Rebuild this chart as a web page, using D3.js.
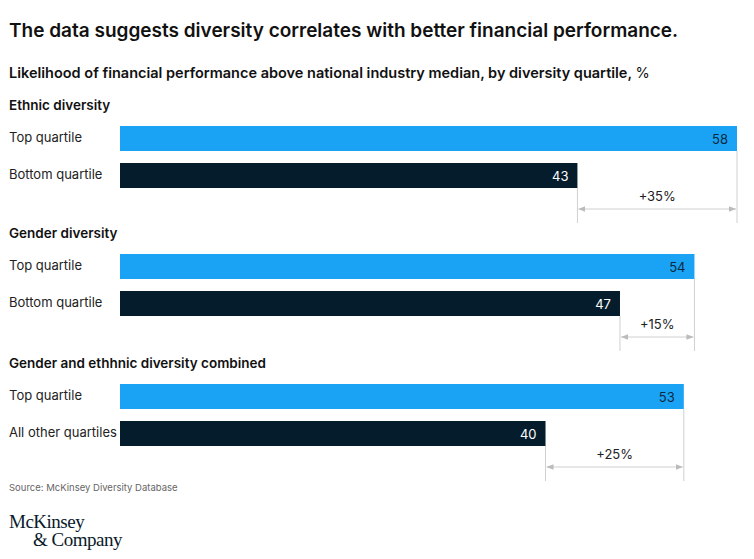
<!DOCTYPE html>
<html><head><meta charset="utf-8">
<script src="https://cdn.jsdelivr.net/npm/d3@7"></script>
<style>body{margin:0;background:#fff;font-family:Inter,"Noto Sans",sans-serif;}</style>
</head><body><svg id="chart" width="754" height="559"></svg>
<script>
// chart data
let groupNames = ["Ethnic diversity", "Gender diversity", "Gender and ethhnic diversity combined"];
let topLabels = ["Top quartile", "Top quartile", "Top quartile"];
let bottomLabels = ["Bottom quartile", "Bottom quartile", "All other quartiles"];
let topValues = [58, 54, 53];
let bottomValues = [43, 47, 40];
let diffLabels = ["+35%", "+15%", "+25%"];

let blue = "#1aa3f4", navy = "#051c2c", grey = "#d0d0d0";
let svg = d3.select("#chart");

let x = d3.scaleLinear().domain([0, 58]).range([120, 737]);
let groupTop = [126, 254, 384];
let barH = 25, gap = 12;

svg.append("text").attr("x", 9).attr("y", 37).attr("font-size", 19).attr("font-weight", 600)
    .attr("fill", "#111").text("The data suggests diversity correlates with better financial performance.");
svg.append("text").attr("x", 9).attr("y", 78).attr("font-size", 14.5).attr("font-weight", 600)
    .attr("fill", "#111").text("Likelihood of financial performance above national industry median, by diversity quartile, ")
    .append("tspan").attr("font-weight", 400).text("%");

let defs = svg.append("defs");
["s", "e"].forEach(function(k){
    defs.append("marker").attr("id", "arr" + k).attr("viewBox", "0 0 10 10")
        .attr("refX", k == "e" ? 10 : 0).attr("refY", 5).attr("markerWidth", 7).attr("markerHeight", 7)
        .attr("orient", "auto")
        .append("path").attr("d", k == "e" ? "M0,1L10,5L0,9Z" : "M10,1L0,5L10,9Z").attr("fill", "#bbb");
});

groupNames.forEach(function(name, i){
    let y0 = groupTop[i];
    let y1 = y0 + barH + gap;
    svg.append("text").attr("x", 9).attr("y", y0 - 16).attr("font-size", 13.5).attr("font-weight", 600)
        .attr("fill", "#111").text(name);

    let rows = [{label: topLabels[i], v: topValues[i], y: y0, c: blue, tc: "#0b2a3f"},
                {label: bottomLabels[i], v: bottomValues[i], y: y1, c: navy, tc: "#fff"}];
    rows.forEach(function(r){
        svg.append("text").attr("x", 9).attr("y", r.y + 16).attr("font-size", 13).attr("fill", "#222").text(r.label);
        svg.append("rect").attr("x", x(0)).attr("y", r.y).attr("width", x(r.v) - x(0)).attr("height", barH).attr("fill", r.c);
        svg.append("text").attr("x", x(r.v) - 9).attr("y", r.y + 18).attr("text-anchor", "end")
            .attr("font-size", 13).attr("fill", r.tc).text(r.v);
    });

    // bracket
    let yb = y1 + barH + 21, yEnd = y1 + barH + 35;
    svg.append("line").attr("x1", x(bottomValues[i])).attr("x2", x(bottomValues[i]))
        .attr("y1", y1 + barH).attr("y2", yEnd).attr("stroke", grey);
    svg.append("line").attr("x1", x(topValues[i])).attr("x2", x(topValues[i]))
        .attr("y1", y0 + barH).attr("y2", yEnd).attr("stroke", grey);
    svg.append("line").attr("x1", x(bottomValues[i]) + 1).attr("x2", x(topValues[i]) - 1)
        .attr("y1", yb).attr("y2", yb).attr("stroke", grey)
        .attr("marker-start", "url(#arrs)").attr("marker-end", "url(#arre)");
    svg.append("text").attr("x", (x(bottomValues[i]) + x(topValues[i])) / 2).attr("y", yb - 8)
        .attr("text-anchor", "middle").attr("font-size", 13).attr("fill", "#222").text(diffLabels[i]);
});

svg.append("text").attr("x", 9).attr("y", 491).attr("font-size", 9.5).attr("fill", "#666")
    .text("Source: McKinsey Diversity Database");
svg.append("text").attr("x", 9).attr("y", 528).attr("font-size", 19).attr("fill", "#0a1a2a")
    .attr("font-family", "'Liberation Serif','DejaVu Serif',serif").attr("letter-spacing", -0.5).text("McKinsey");
svg.append("text").attr("x", 33).attr("y", 546).attr("font-size", 19).attr("fill", "#0a1a2a")
    .attr("font-family", "'Liberation Serif','DejaVu Serif',serif").attr("letter-spacing", -0.5).text("& Company");
</script></body></html>
